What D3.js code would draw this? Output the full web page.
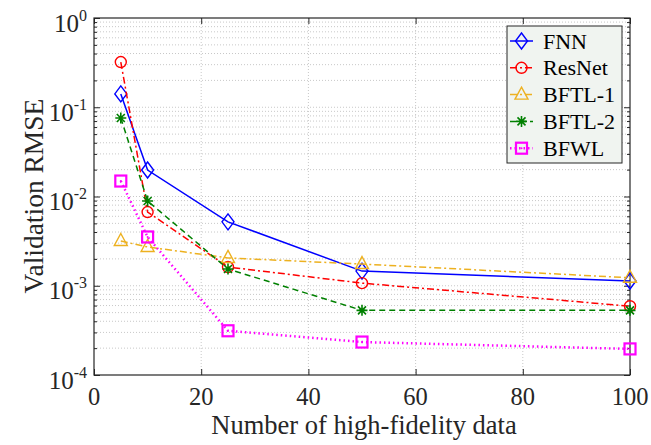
<!DOCTYPE html>
<html><head><meta charset="utf-8">
<script src="https://cdn.jsdelivr.net/npm/d3@7"></script>
<style>body{margin:0;background:#fff;} svg{display:block;} text{font-family:"Liberation Serif","DejaVu Serif",serif;}</style>
</head><body>
<svg id="c" width="651" height="445"></svg>
<script>
const xs = [5, 10, 25, 50, 100];
const fnn = [0.141, 0.0198, 0.0052, 0.00146, 0.00113];
const resnet = [0.321, 0.0067, 0.00162, 0.00107, 0.00059];
const bftl1 = [0.00317, 0.00272, 0.00205, 0.00175, 0.00123];
const bftl2 = [0.0758, 0.0089, 0.00154, 0.00053, 0.00053];
const bfwl = [0.0149, 0.00352, 0.000313, 0.000234, 0.000196];
const seriesNames = ["FNN", "ResNet", "BFTL-1", "BFTL-2", "BFWL"];
const xTicks = [0, 20, 40, 60, 80, 100];
const yTickExps = [0, -1, -2, -3, -4];

const FONT = "Liberation Serif, DejaVu Serif, serif";
const series = [
  {name: seriesNames[0], vals: fnn, color: "#0000ff", dash: null, marker: "diamond"},
  {name: seriesNames[1], vals: resnet, color: "#ff0000", dash: "7,3,2,3", marker: "circle"},
  {name: seriesNames[2], vals: bftl1, color: "#edb120", dash: "7,3,2,3", marker: "triangle"},
  {name: seriesNames[3], vals: bftl2, color: "#008000", dash: "6,4", marker: "star"},
  {name: seriesNames[4], vals: bfwl, color: "#ff00ff", dash: "1.5,3", marker: "square"}
];

const L = 94, R = 630, T = 18, B = 375;
const svg = d3.select("#c");
const x = d3.scaleLinear().domain([0, 100]).range([L, R]);
const y = d3.scaleLog().domain([1e-4, 1]).range([B, T]);

// grid
const g = svg.append("g");
const minor = [];
for (let e = -4; e < 0; e++) for (let k = 1; k <= 9; k++) minor.push(k * Math.pow(10, e));
minor.push(1);
g.selectAll(".hg").data(minor.filter(v => v > 1e-4 && v < 1)).enter().append("line")
  .attr("x1", L).attr("x2", R).attr("y1", d => y(d)).attr("y2", d => y(d))
  .attr("stroke", "#c8c8c8").attr("stroke-width", 1).attr("stroke-dasharray", "1,2");
g.selectAll(".vg").data(xTicks.filter(v => v > 0 && v < 100)).enter().append("line")
  .attr("y1", T).attr("y2", B).attr("x1", d => x(d)).attr("x2", d => x(d))
  .attr("stroke", "#c8c8c8").attr("stroke-width", 1).attr("stroke-dasharray", "1,2");

// axes with inward ticks
const ax = svg.append("g").attr("class", "axes");
ax.append("g").attr("transform", `translate(0,${B})`).call(d3.axisBottom(x).tickValues(xTicks).tickSize(-6).tickFormat(""));
ax.append("g").attr("transform", `translate(0,${T})`).call(d3.axisTop(x).tickValues(xTicks).tickSize(-6).tickFormat(""));
const yMajor = yTickExps.map(e => Math.pow(10, e));
const yMinor = minor.filter(v => !yMajor.some(m => Math.abs(m - v) < 1e-12));
ax.append("g").attr("transform", `translate(${L},0)`).call(d3.axisLeft(y).tickValues(yMajor).tickSize(-6).tickFormat(""));
ax.append("g").attr("transform", `translate(${L},0)`).call(d3.axisLeft(y).tickValues(yMinor).tickSize(-3).tickFormat(""));
ax.append("g").attr("transform", `translate(${R},0)`).call(d3.axisRight(y).tickValues(yMajor).tickSize(-6).tickFormat(""));
ax.append("g").attr("transform", `translate(${R},0)`).call(d3.axisRight(y).tickValues(yMinor).tickSize(-3).tickFormat(""));
ax.selectAll(".domain").remove();
ax.selectAll("line").attr("stroke", "#262626").attr("stroke-width", 1);
svg.append("rect").attr("x", L).attr("y", T).attr("width", R - L).attr("height", B - T)
  .attr("fill", "none").attr("stroke", "#262626").attr("stroke-width", 1.2);

// tick labels
svg.selectAll(".xl").data(xTicks).enter().append("text")
  .attr("x", d => x(d)).attr("y", 404.5).attr("text-anchor", "middle")
  .attr("font-family", FONT).attr("font-size", 24.5).attr("fill", "#262626").text(d => d);
const yl = svg.selectAll(".yl").data(yTickExps).enter().append("text")
  .attr("x", 87).attr("y", d => y(Math.pow(10, d)) + 13.5).attr("text-anchor", "end")
  .attr("font-family", FONT).attr("font-size", 25).attr("fill", "#262626");
yl.append("tspan").text("10");
yl.append("tspan").attr("dy", -11).attr("font-size", 16).text(d => d);

// axis labels
svg.append("text").attr("x", 364).attr("y", 433.5).attr("text-anchor", "middle")
  .attr("font-family", FONT).attr("font-size", 26.5).attr("fill", "#262626").text("Number of high-fidelity data");
svg.append("text").attr("transform", `translate(43,196) rotate(-90)`)
  .attr("text-anchor", "middle").attr("font-family", FONT).attr("font-size", 27.5).attr("fill", "#262626").text("Validation RMSE");

function drawMarker(sel, type, color, cx, cy) {
  const gg = sel.append("g").attr("transform", `translate(${cx},${cy})`)
    .attr("fill", "none").attr("stroke", color).attr("stroke-width", 1.4);
  if (type === "diamond") gg.append("path").attr("d", "M0,-8L6,0L0,8L-6,0Z");
  else if (type === "circle") gg.append("circle").attr("r", 5.5);
  else if (type === "triangle") gg.append("path").attr("d", "M0,-7.5L6.5,4.5L-6.5,4.5Z");
  else if (type === "star") {
    gg.attr("stroke-width", 1.6);
    gg.append("path").attr("d", "M0,-5.5L0,5.5M-5.5,0L5.5,0M-4,-4L4,4M-4,4L4,-4");
  } else if (type === "square") {
    gg.attr("stroke-width", 2.2);
    gg.append("rect").attr("x", -5.5).attr("y", -5.5).attr("width", 11).attr("height", 11);
    gg.append("circle").attr("r", 1).attr("fill", color).attr("stroke", "none");
  }
}

const line = d3.line().x(d => x(d[0])).y(d => y(d[1]));
series.forEach(s => {
  const pts = xs.map((xv, i) => [xv, s.vals[i]]);
  svg.append("path").datum(pts).attr("d", line).attr("fill", "none")
    .attr("stroke", s.color).attr("stroke-width", s.marker === "square" ? 2.5 : 1.5)
    .attr("stroke-dasharray", s.dash);
  pts.forEach(p => drawMarker(svg, s.marker, s.color, x(p[0]), y(p[1])));
});

// legend
const lx = 507, ly = 26, lw = 115, lh = 137;
svg.append("rect").attr("x", lx).attr("y", ly).attr("width", lw).attr("height", lh)
  .attr("fill", "#f0f4f0").attr("stroke", "#262626").attr("stroke-width", 1);
series.forEach((s, i) => {
  const cy = ly + 15 + i * 26.8;
  svg.append("line").attr("x1", lx + 3).attr("x2", lx + 26).attr("y1", cy).attr("y2", cy)
    .attr("stroke", s.color).attr("stroke-width", s.marker === "square" ? 2.5 : 1.5).attr("stroke-dasharray", s.dash);
  drawMarker(svg, s.marker, s.color, lx + 14.5, cy);
  svg.append("text").attr("x", lx + 36).attr("y", cy + 7.5)
    .attr("font-family", FONT).attr("font-size", 22).attr("fill", "#000").text(s.name);
});
</script>
</body></html>
